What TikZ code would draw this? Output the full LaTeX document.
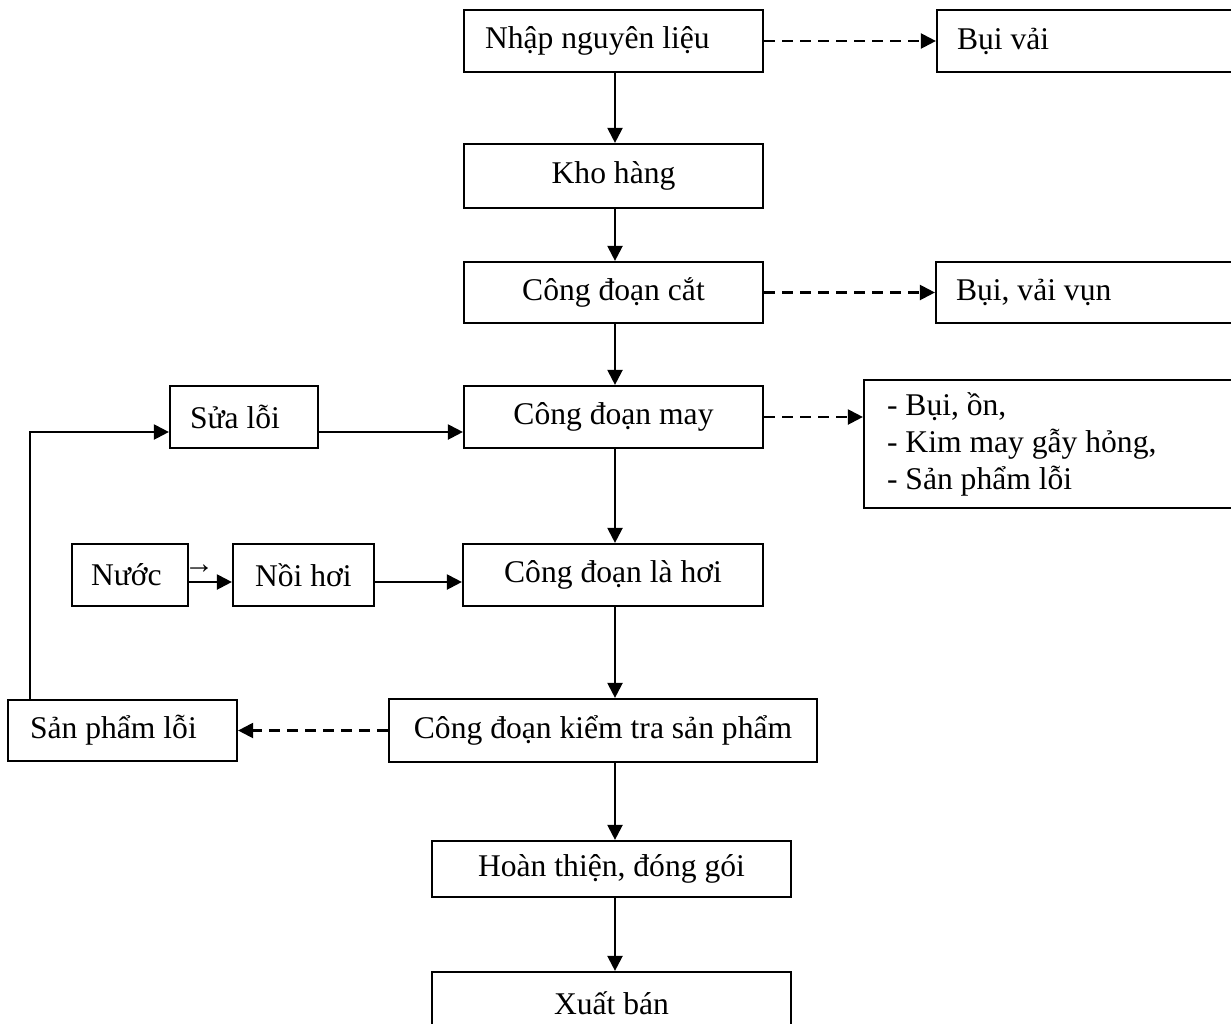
\documentclass[tikz,border=0pt]{standalone}
\usepackage{fontspec}
\setmainfont{Liberation Serif}
\usetikzlibrary{arrows.meta}
\begin{document}
\begin{tikzpicture}[x=0.5pt,y=-0.5pt,
  box/.style={draw,line width=1.1pt,rectangle,inner sep=0pt,font=\fontsize{15.8}{18.5}\selectfont},
  lbox/.style={box,align=flush left},
  arr/.style={line width=1.1pt,-{Triangle[length=7.5pt,width=7.5pt]}},
  darr/.style={arr,dash pattern=on 5.5pt off 3.5pt}]
\useasboundingbox (0,0) rectangle (1231,1023);
\clip (0,0) rectangle (1231,1023);
% main column
\node[lbox,minimum height=31pt,text width=128.5pt,inner xsep=10.5pt] (nhap) at (613.5,41) {Nhập nguyên liệu};
\node[box,minimum width=149.5pt,minimum height=32pt] (kho) at (613.5,176) {Kho hàng};
\node[box,minimum width=149.5pt,minimum height=30.5pt] (cat) at (613.5,292.5) {Công đoạn cắt};
\node[box,minimum width=149.5pt,minimum height=31pt] (may) at (613.5,417) {Công đoạn may};
\node[box,minimum width=150pt,minimum height=31pt] (lahoi) at (613,575) {Công đoạn là hơi};
\node[box,minimum width=214pt,minimum height=31.5pt] (kt) at (603,730.5) {Công đoạn kiểm tra sản phẩm};
\node[box,minimum width=179.5pt,minimum height=28pt] (ht) at (611.5,869) {Hoàn thiện, đóng gói};
\node[box,minimum width=179.5pt,minimum height=31pt] (xb) at (611.5,1003) {Xuất bán};
% right column
\node[lbox,minimum height=31pt,text width=141.5pt,inner xsep=10pt] (bv) at (1098.5,41) {Bụi vải};
\node[lbox,minimum height=30.5pt,text width=142pt,inner xsep=10pt] (bvv) at (1098,292.5) {Bụi, vải vụn};
\node[lbox,minimum height=64pt,text width=175pt,inner xsep=11.5pt] (ds) at (1062,444) {- Bụi, ồn,\\- Kim may gẫy hỏng,\\- Sản phẩm lỗi};
% left side
\node[lbox,minimum height=31pt,text width=54pt,inner xsep=10pt] (sua) at (244,417) {Sửa lỗi};
\node[lbox,minimum height=31pt,text width=39pt,inner xsep=9.5pt] (nuoc) at (130,575) {Nước};
\node[lbox,minimum height=31pt,text width=54.5pt,inner xsep=8pt] (noi) at (303.5,575) {\hspace*{3pt}Nồi hơi};
\node[lbox,minimum height=30.5pt,text width=92.5pt,inner xsep=11pt] (spl) at (122.5,730.5) {Sản phẩm lỗi};
\node[inner sep=0pt,font=\fontsize{15}{15}\selectfont] (nuocarr) at (199,569) {→};
% helper coordinates
\coordinate (col) at (615,0);
\coordinate (fb) at (30,432);
\coordinate (st) at (0,582);
% vertical flow
\draw[arr] (nhap.south -| col) -- (kho.north -| col);
\draw[arr] (kho.south -| col) -- (cat.north -| col);
\draw[arr] (cat.south -| col) -- (may.north -| col);
\draw[arr] (may.south -| col) -- (lahoi.north -| col);
\draw[arr] (lahoi.south -| col) -- (kt.north -| col);
\draw[arr] (kt.south -| col) -- (ht.north -| col);
\draw[arr] (ht.south -| col) -- (xb.north -| col);
% dashed outputs
\draw[darr] (nhap.east) -- (bv.west);
\draw[darr] (cat.east) -- (bvv.west);
\draw[darr] (may.east) -- (may.east -| ds.west);
\draw[darr] (kt.west) -- (kt.west -| spl.east);
% feedback loop
\draw[arr] (spl.north -| fb) -- (fb) -- (fb -| sua.west);
\draw[arr] (sua.east |- fb) -- (fb -| may.west);
% steam
\draw[arr] (nuoc.east |- st) -- (noi.west |- st);
\draw[arr] (noi.east |- st) -- (lahoi.west |- st);
\end{tikzpicture}
\end{document}
